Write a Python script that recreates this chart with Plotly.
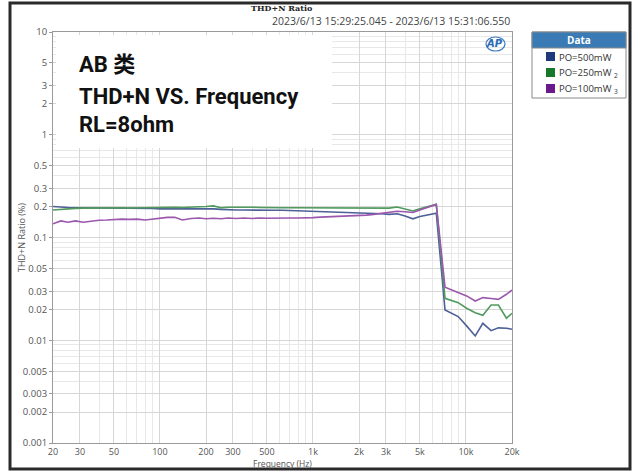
import plotly.graph_objects as go

# ---------------- data ----------------
freq = [20, 22.5, 25, 28, 31.5, 35.5, 40, 45, 50, 56, 63, 71, 80, 90, 100, 112, 125, 140, 160, 180,
        200, 224, 250, 280, 315, 355, 400, 450, 500, 560, 630, 710, 800, 900, 1000, 1120, 1250, 1400,
        1600, 1800, 2000, 2240, 2500, 2800, 3150, 3550, 4000, 4500, 5000, 5600, 6400, 7300, 8900,
        10100, 11500, 12900, 14600, 16300, 18400, 20000]

po_500 = [0.200, 0.197, 0.196, 0.195, 0.195, 0.194, 0.193, 0.193, 0.194, 0.193, 0.193, 0.192, 0.193,
          0.192, 0.190, 0.190, 0.192, 0.193, 0.192, 0.190, 0.190, 0.190, 0.188, 0.186, 0.185, 0.185,
          0.184, 0.185, 0.185, 0.184, 0.184, 0.183, 0.182, 0.181, 0.180, 0.179, 0.178, 0.177, 0.176,
          0.174, 0.172, 0.171, 0.172, 0.170, 0.168, 0.170, 0.162, 0.152, 0.160, 0.166, 0.172,
          0.0197, 0.0170, 0.0138, 0.0110, 0.0146, 0.0124, 0.0132, 0.0131, 0.0128]

po_250 = [0.185, 0.188, 0.190, 0.192, 0.193, 0.194, 0.195, 0.195, 0.195, 0.195, 0.194, 0.195, 0.196,
          0.197, 0.197, 0.198, 0.197, 0.196, 0.197, 0.198, 0.200, 0.203, 0.195, 0.197, 0.198, 0.198,
          0.197, 0.196, 0.195, 0.195, 0.195, 0.195, 0.195, 0.195, 0.195, 0.195, 0.194, 0.194, 0.193,
          0.193, 0.193, 0.192, 0.192, 0.192, 0.193, 0.198, 0.188, 0.181, 0.190, 0.200, 0.210,
          0.0256, 0.0232, 0.0205, 0.0185, 0.0175, 0.0220, 0.0220, 0.0164, 0.0183]

po_100 = [0.136, 0.145, 0.141, 0.145, 0.141, 0.145, 0.147, 0.148, 0.150, 0.151, 0.150, 0.151, 0.148,
          0.151, 0.155, 0.157, 0.157, 0.148, 0.153, 0.155, 0.152, 0.154, 0.152, 0.155, 0.153, 0.155,
          0.153, 0.155, 0.154, 0.155, 0.155, 0.155, 0.155, 0.155, 0.156, 0.158, 0.159, 0.160, 0.161,
          0.163, 0.164, 0.165, 0.168, 0.172, 0.176, 0.180, 0.178, 0.175, 0.185, 0.195, 0.210,
          0.0328, 0.0293, 0.0270, 0.0241, 0.0260, 0.0255, 0.0250, 0.0280, 0.0308]

series_names = ["PO=500mW", "PO=250mW <sub>2</sub>", "PO=100mW <sub>3</sub>"]
line_colors = ["#4d6098", "#4f9a5c", "#9a57ad"]
swatch_colors = ["#1f3a7a", "#17772a", "#6a1a8a"]

x_tickvals = [20, 30, 50, 100, 200, 300, 500, 1000, 2000, 3000, 5000, 10000, 20000]
x_ticktext = ["20", "30", "50", "100", "200", "300", "500", "1k", "2k", "3k", "5k", "10k", "20k"]
y_tickvals = [10, 5, 3, 2, 1, 0.5, 0.3, 0.2, 0.1, 0.05, 0.03, 0.02, 0.01, 0.005, 0.003, 0.002, 0.001]
y_ticktext = ["10", "5", "3", "2", "1", "0.5", "0.3", "0.2", "0.1", "0.05", "0.03", "0.02", "0.01",
              "0.005", "0.003", "0.002", "0.001"]

x_minor = [m * 10 ** e for e in range(1, 5) for m in range(1, 10) if 20 <= m * 10 ** e <= 20000]
y_minor = [m * 10.0 ** e for e in range(-3, 1) for m in range(1, 10)] + [10]

# ---------------- layout helpers (pixel -> paper) ----------------
W, H = 635, 472
L, R, T, B = 53, 512, 32, 443


def px(x):
    return (x - L) / (R - L)


def py(y):
    return (B - y) / (B - T)


fig = go.Figure()
for vals, name, col in zip([po_500, po_250, po_100], series_names, line_colors):
    fig.add_trace(go.Scatter(x=freq, y=vals, mode="lines", name=name,
                             line=dict(color=col, width=1.6), showlegend=False))

shapes = []
annots = []

# white text box covering grid
shapes.append(dict(type="rect", xref="paper", yref="paper", x0=px(56), x1=px(332), y0=py(35), y1=py(148),
                   fillcolor="white", line=dict(width=0), layer="above"))
big_font = dict(family="Roboto, Noto Sans CJK SC, sans-serif", size=22, color="#111")
for txt, yy in [("<b>AB 类</b>", 64), ("<b>THD+N VS. Frequency</b>", 96), ("<b>RL=8ohm</b>", 125)]:
    annots.append(dict(text=txt, xref="paper", yref="paper", x=px(77), y=py(yy), xanchor="left",
                       yanchor="middle", showarrow=False, font=big_font))

# AP logo
shapes.append(dict(type="circle", xref="paper", yref="paper", x0=px(486), x1=px(505), y0=py(37), y1=py(51),
                   line=dict(color="#3a78c0", width=1.2)))
annots.append(dict(text="<b><i>AP</i></b>", xref="paper", yref="paper", x=px(494), y=py(44), showarrow=False,
                   font=dict(family="DejaVu Sans", size=10, color="#2a6ab8"), xanchor="center", yanchor="middle"))

# titles at top
annots.append(dict(text="<b>THD+N Ratio</b>", xref="paper", yref="paper", x=px(282), y=py(8), showarrow=False,
                   font=dict(family="DejaVu Serif", size=8, color="#222"), xanchor="center", yanchor="middle"))
annots.append(dict(text="2023/6/13 15:29:25.045 - 2023/6/13 15:31:06.550", xref="paper", yref="paper",
                   x=px(512), y=py(21), showarrow=False, xanchor="right", yanchor="middle",
                   font=dict(family="Open Sans, DejaVu Sans", size=10.5, color="#444")))

# axis titles
axis_title_font = dict(family="Open Sans, DejaVu Sans", size=8.5, color="#555")
annots.append(dict(text="Frequency (Hz)", xref="paper", yref="paper", x=px(282), y=py(463.5), showarrow=False,
                   xanchor="center", yanchor="middle", font=axis_title_font, borderpad=0))
annots.append(dict(text="THD+N Ratio (%)", xref="paper", yref="paper", x=px(21), y=py(238), showarrow=False,
                   xanchor="center", yanchor="middle", textangle=-90,
                   font=dict(family="Open Sans, DejaVu Sans", size=9, color="#555")))

# manual legend
lx0, lx1, ly0, ly1 = 532, 626, 32, 98
shapes.append(dict(type="rect", xref="paper", yref="paper", x0=px(lx0), x1=px(lx1), y0=py(ly0), y1=py(ly1),
                   fillcolor="white", line=dict(color="#8a8a8a", width=1)))
shapes.append(dict(type="rect", xref="paper", yref="paper", x0=px(lx0), x1=px(lx1), y0=py(ly0), y1=py(48),
                   fillcolor="#3a7ab5", line=dict(color="#8a8a8a", width=1)))
annots.append(dict(text="<b>Data</b>", xref="paper", yref="paper", x=px((lx0 + lx1) / 2), y=py(40),
                   showarrow=False, font=dict(family="Open Sans, DejaVu Sans", size=10, color="white"),
                   xanchor="center", yanchor="middle"))
for i, (name, sc) in enumerate(zip(series_names, swatch_colors)):
    yy = 57 + i * 16
    shapes.append(dict(type="rect", xref="paper", yref="paper", x0=px(546), x1=px(555), y0=py(yy - 5),
                       y1=py(yy + 4), fillcolor=sc, line=dict(width=0)))
    annots.append(dict(text=name, xref="paper", yref="paper", x=px(557), y=py(yy), showarrow=False,
                       xanchor="left", yanchor="middle",
                       font=dict(family="Open Sans, DejaVu Sans", size=9.5, color="#333")))

# outer frame
shapes.append(dict(type="rect", xref="paper", yref="paper", x0=px(10), x1=px(630), y0=py(3), y1=py(469),
                   line=dict(color="#2a2a2a", width=3), fillcolor="rgba(0,0,0,0)"))

tick_font = dict(family="Open Sans, DejaVu Sans", size=9, color="#555")

fig.update_layout(
    width=W, height=H,
    margin=dict(l=L, r=W - R, t=T, b=H - B, pad=0),
    paper_bgcolor="white", plot_bgcolor="white",
    shapes=shapes, annotations=annots,
    xaxis=dict(type="log", range=[1.30103, 4.30103], tickmode="array", tickvals=x_tickvals,
               ticktext=x_ticktext, tickfont=tick_font, showgrid=True, gridcolor="#d6d6d6", gridwidth=1,
               minor=dict(tickmode="array", tickvals=x_minor, showgrid=True, gridcolor="#e8e8e8", ticks=""),
               showline=True, linecolor="#9a9a9a", linewidth=1, mirror=True, ticks="",
               zeroline=False, automargin=False),
    yaxis=dict(type="log", range=[-3, 1], tickmode="array", tickvals=y_tickvals, ticktext=y_ticktext,
               tickfont=dict(family="Open Sans, DejaVu Sans", size=9.5, color="#555"),
               showgrid=True, gridcolor="#d6d6d6", gridwidth=1,
               minor=dict(tickmode="array", tickvals=y_minor, showgrid=True, gridcolor="#e8e8e8", ticks=""),
               showline=True, linecolor="#9a9a9a", linewidth=1, mirror=True, ticks="outside", ticklen=3,
               tickcolor="#9a9a9a", zeroline=False, automargin=False),
)

fig.write_html("out.html", config={"displayModeBar": False},
               post_script="document.body.style.margin='0';")
